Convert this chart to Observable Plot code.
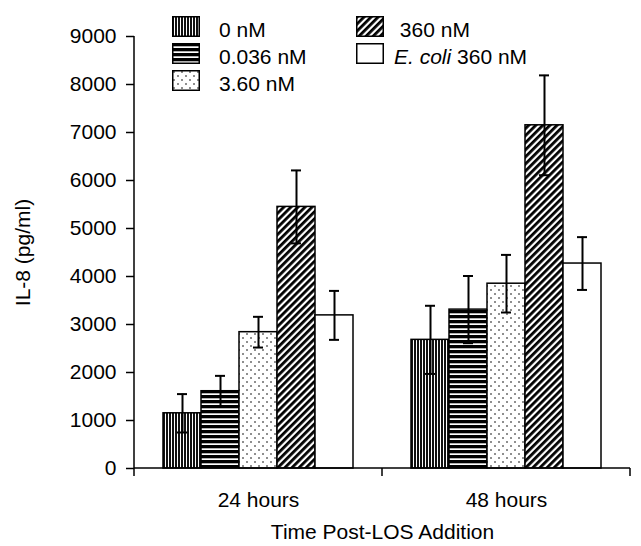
<!DOCTYPE html>
<html>
<head>
<meta charset="utf-8">
<script src="https://cdn.jsdelivr.net/npm/d3@7"></script>
<script src="https://cdn.jsdelivr.net/npm/@observablehq/plot@0.6"></script>
<style>
  html, body { margin: 0; padding: 0; background: #fff; }
  #wrap { position: relative; width: 641px; height: 546px; font-family: "Liberation Sans", Arial, sans-serif; }
  #legend { position: absolute; left: 172px; top: 13px; display: grid; grid-auto-flow: column;
            grid-template-rows: repeat(3, 27px); grid-template-columns: 184px 200px; font-size: 21px; }
  .item { display: flex; align-items: center; white-space: pre; }
  .item svg { flex: none; }
  .col1 .lab { margin-left: 19px; }
  .col2 .lab { margin-left: 10px; }
  .lab { line-height: 21px; position: relative; top: 3px; }
</style>
</head>
<body>
<svg width="0" height="0" style="position:absolute">
  <defs>
    <pattern id="p0" width="3" height="4" patternUnits="userSpaceOnUse">
      <rect width="3" height="4" fill="#111"/>
      <rect x="2" width="1" height="4" fill="#fff"/>
    </pattern>
    <pattern id="p1" width="4" height="5" patternUnits="userSpaceOnUse">
      <rect width="4" height="5" fill="#fff"/>
      <rect width="4" height="3.3" fill="#000"/>
    </pattern>
    <pattern id="p2" width="8" height="8" patternUnits="userSpaceOnUse">
      <rect width="8" height="8" fill="#fff"/>
      <circle cx="2" cy="2" r="0.8" fill="#000"/>
      <circle cx="6" cy="6" r="0.8" fill="#000"/>
    </pattern>
    <pattern id="p3" width="5" height="5" patternUnits="userSpaceOnUse" patternTransform="rotate(45)">
      <rect width="5" height="5" fill="#fff"/>
      <rect width="2.8" height="5" fill="#000"/>
    </pattern>
    <pattern id="p4" width="4" height="4" patternUnits="userSpaceOnUse">
      <rect width="4" height="4" fill="#fff"/>
    </pattern>
  </defs>
</svg>
<div id="wrap">
  <div id="chart"></div>
  <div id="legend"></div>
</div>
<script>
// ---- data ----
const times = ["24 hours", "48 hours"];
const series = ["0 nM", "0.036 nM", "3.60 nM", "360 nM", "E. coli 360 nM"];
const legendLabels = ["0 nM", "0.036 nM", "3.60 nM", " 360 nM", "<i>E. coli</i> 360 nM"];
const mean24 = [1150, 1610, 2840, 5450, 3190];
const err24  = [400, 320, 320, 760, 510];
const mean48 = [2680, 3310, 3850, 7150, 4270];
const err48  = [710, 700, 600, 1040, 550];
const yTicks = [0, 1000, 2000, 3000, 4000, 5000, 6000, 7000, 8000, 9000];
const patterns = ["url(#p0)", "url(#p1)", "url(#p2)", "url(#p3)", "url(#p4)"];

const rows = [];
series.forEach((s, i) => {
  rows.push({time: times[0], series: s, value: mean24[i], err: err24[i]});
  rows.push({time: times[1], series: s, value: mean48[i], err: err48[i]});
});

const frameAxes = Plot.frame({
  facet: "super",
  render: (index, scales) => {
    const fx = scales.fx, y = scales.y;
    const dom = fx.domain();
    const edges = [...dom.map(d => fx(d)), fx(dom[dom.length - 1]) + fx.bandwidth()];
    const y0 = y(0);
    const g = d3.create("svg:g").attr("stroke", "black").attr("stroke-width", 1.5).attr("fill", "none");
    g.selectAll(".t").data(edges).join("line")
      .attr("x1", d => d).attr("x2", d => d).attr("y1", y0).attr("y2", y0 + 8);
    g.append("line").attr("x1", edges[0]).attr("x2", edges[0]).attr("y1", y0).attr("y2", y(yTicks[yTicks.length - 1]));
    g.append("line").attr("x1", edges[0]).attr("x2", edges[edges.length - 1]).attr("y1", y0).attr("y2", y0);
    return g.node();
  }
});

const chart = Plot.plot({
  width: 641,
  height: 546,
  marginLeft: 133,
  marginRight: 11,
  marginTop: 36,
  marginBottom: 78,
  style: {fontFamily: "'Liberation Sans', Arial, sans-serif", fontSize: "21px", color: "black", background: "white", overflow: "visible"},
  fx: {domain: times, padding: 0},
  x: {domain: series, paddingInner: 0, paddingOuter: 0.70, axis: null},
  y: {domain: [0, 9000], nice: false},
  color: {type: "ordinal", domain: series, range: patterns},
  marks: [
    Plot.barY(rows, {fx: "time", x: "series", y: "value", fill: "series", stroke: "black", strokeWidth: 1.5}),
    Plot.ruleX(rows, {fx: "time", x: "series", y1: d => d.value - d.err, y2: d => d.value + d.err, stroke: "black", strokeWidth: 2}),
    Plot.tickY(rows, {fx: "time", x: "series", y: d => d.value + d.err, insetLeft: 14, insetRight: 14, stroke: "black", strokeWidth: 2}),
    Plot.tickY(rows, {fx: "time", x: "series", y: d => d.value - d.err, insetLeft: 14, insetRight: 14, stroke: "black", strokeWidth: 2}),
    frameAxes,
    Plot.axisY({ticks: yTicks, tickFormat: d => String(d), tickSize: 8, tickPadding: 10, strokeWidth: 1.5,
      label: "IL-8 (pg/ml)", labelAnchor: "center", labelOffset: 119, labelArrow: "none"}),
    Plot.axisFx({anchor: "bottom", tickSize: 0, tickPadding: 24,
      label: "Time Post-LOS Addition", labelAnchor: "center", labelOffset: 70, labelArrow: "none"})
  ]
});
document.getElementById("chart").appendChild(chart);

// ---- legend ----
const legend = d3.select("#legend");
series.forEach((s, i) => {
  const item = legend.append("div").attr("class", "item " + (i < 3 ? "col1" : "col2"));
  const sw = item.append("svg").attr("width", 28).attr("height", 21);
  sw.append("rect").attr("x", 0.75).attr("y", 0.75).attr("width", 26.5).attr("height", 19.5)
    .attr("fill", patterns[i]).attr("stroke", "black").attr("stroke-width", 1.5);
  item.append("span").attr("class", "lab").html(legendLabels[i]);
});
</script>
</body>
</html>
